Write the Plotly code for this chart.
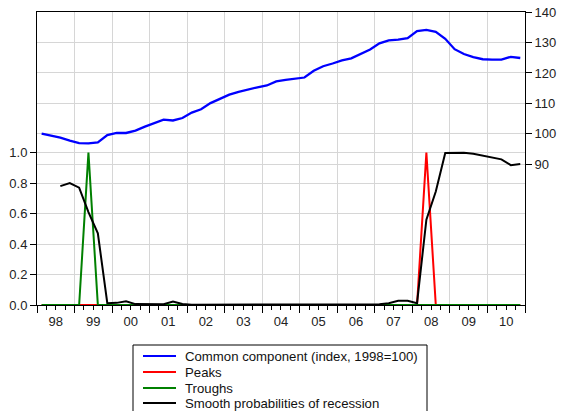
import plotly.graph_objects as go
import pandas as pd

# ---------------- data ----------------
quarters = [f"{y}Q{q}" for y in range(1998, 2011) for q in range(1, 5)]

common_component = [
    100.1, 99.5, 98.8, 97.8,
    97.0, 96.9, 97.2, 99.6,
    100.3, 100.3, 101.1, 102.4,
    103.5, 104.7, 104.4, 105.2,
    107.0, 108.1, 110.1, 111.4,
    112.9, 113.8, 114.6, 115.3,
    115.9, 117.2, 117.7, 118.2,
    118.5, 120.7, 122.2, 123.1,
    124.1, 124.8, 126.3, 127.7,
    129.7, 130.7, 130.9, 131.4,
    133.7, 134.1, 133.5, 131.2,
    127.8, 126.2, 125.2, 124.5,
    124.4, 124.4, 125.3, 124.9,
]

peaks = [0] * 41 + [1] + [0] * 10
troughs = [0] * 5 + [1] + [0] * 46

smooth_prob = [
    None, None, 0.78, 0.80,
    0.77, 0.61, 0.47, 0.012,
    0.014, 0.024, 0.006, 0.004,
    0.003, 0.005, 0.022, 0.006,
    0.002, 0.002, 0.002, 0.002,
    0.002, 0.002, 0.002, 0.002,
    0.002, 0.002, 0.003, 0.006,
    0.004, 0.002, 0.002, 0.002,
    0.002, 0.002, 0.002, 0.003,
    0.005, 0.012, 0.028, 0.028,
    0.012, 0.56, 0.745, 0.997,
    0.999, 0.999, 0.993, 0.979,
    0.966, 0.956, 0.918, 0.925,
]

year_labels = ["98", "99", "00", "01", "02", "03", "04", "05", "06", "07", "08", "09", "10"]
left_ticks = [0.0, 0.2, 0.4, 0.6, 0.8, 1.0]
right_ticks = [90, 100, 110, 120, 130, 140]

series_names = [
    "Common component (index, 1998=100)",
    "Peaks",
    "Troughs",
    "Smooth probabilities of recession",
]
series_colors = ["#0000ff", "#ff0000", "#008000", "#000000"]

# ---------------- build ----------------
per = pd.PeriodIndex(quarters, freq="Q")
x = per.start_time + (per.end_time - per.start_time) / 2
years = list(range(1998, 2011))
label_pos = [pd.Timestamp(f"{y}-07-02") for y in years]

FONT = "Liberation Sans, Arial, sans-serif"
GRID = "#d6d6d6"
xr = ["1998-01-01", "2011-01-01"]

fig = go.Figure()
fig.add_trace(go.Scatter(x=x, y=common_component, name=series_names[0], yaxis="y2",
                         mode="lines", line=dict(color=series_colors[0], width=2.3)))
fig.add_trace(go.Scatter(x=x, y=peaks, name=series_names[1], mode="lines",
                         line=dict(color=series_colors[1], width=2)))
fig.add_trace(go.Scatter(x=x, y=troughs, name=series_names[2], mode="lines",
                         line=dict(color=series_colors[2], width=2)))
fig.add_trace(go.Scatter(x=x, y=smooth_prob, name=series_names[3], mode="lines",
                         line=dict(color=series_colors[3], width=2)))
# invisible helper trace carrying the year-label axis
fig.add_trace(go.Scatter(x=[label_pos[0]], y=[0], xaxis="x2", mode="markers",
                         marker=dict(opacity=0), hoverinfo="skip", showlegend=False))

L, R, T, B = 37, 36, 12, 106
W, H = 561, 411
pw, ph = W - L - R, H - T - B


def px(xp):
    return (xp - L) / pw


def py(yp):
    return (H - B - yp) / ph


fig.update_layout(
    width=W, height=H,
    margin=dict(l=L, r=R, t=T, b=B, autoexpand=False),
    paper_bgcolor="white", plot_bgcolor="white",
    showlegend=False,
    font=dict(family=FONT, size=13, color="#222"),
    xaxis=dict(type="date", range=xr, tickmode="linear", tick0="1998-01-01", dtick="M12",
               ticks="outside", ticklen=7, tickcolor="black", showticklabels=False,
               showgrid=True, gridcolor=GRID, zeroline=False, automargin=False,
               showline=True, linecolor="black", linewidth=1, mirror=True,
               minor=dict(tick0="1998-01-01", dtick="M3", ticks="outside", ticklen=4,
                          tickcolor="black", showgrid=False)),
    xaxis2=dict(type="date", range=xr, overlaying="x", anchor="y", side="bottom",
                tickmode="array", tickvals=label_pos, ticktext=year_labels,
                ticks="outside", ticklen=4, tickcolor="rgba(0,0,0,0)",
                showgrid=False, showline=False, zeroline=False, automargin=False,
                tickfont=dict(size=13, color="#222")),
    yaxis=dict(range=[0, 1.923], tickmode="array", tickvals=left_ticks,
               ticktext=[f"{v:.1f}" for v in left_ticks],
               ticks="outside", ticklen=6, tickcolor="black", automargin=False,
               showgrid=True, gridcolor=GRID, zeroline=False,
               showline=True, linecolor="black", linewidth=1),
    yaxis2=dict(range=[43.85, 140], overlaying="y", side="right", anchor="x",
                tickmode="array", tickvals=right_ticks, automargin=False,
                ticks="outside", ticklen=6, tickcolor="black",
                showgrid=True, gridcolor=GRID, zeroline=False,
                showline=True, linecolor="black", linewidth=1),
)

# custom legend box
shapes = [dict(type="rect", xref="paper", yref="paper",
               x0=px(133), x1=px(427), y0=py(345), y1=py(425),
               line=dict(color="black", width=1), fillcolor="white", layer="above")]
annotations = []
rows = [356, 372, 388, 403]
for name, col, yr in zip(series_names, series_colors, rows):
    shapes.append(dict(type="line", xref="paper", yref="paper",
                       x0=px(143), x1=px(176), y0=py(yr), y1=py(yr),
                       line=dict(color=col, width=2)))
    annotations.append(dict(xref="paper", yref="paper", x=px(183), y=py(yr),
                            xanchor="left", yanchor="middle", showarrow=False,
                            text=name, font=dict(size=13.2, color="#111", family=FONT)))
fig.update_layout(shapes=shapes, annotations=annotations)

fig.write_html("out.html", config={"displayModeBar": False},
               post_script="document.body.style.margin='0';document.body.style.overflow='hidden';")
